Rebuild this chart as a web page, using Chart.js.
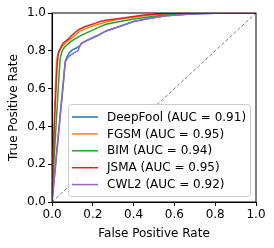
<!DOCTYPE html>
<html>
<head>
<meta charset="utf-8">
<script src="https://cdn.jsdelivr.net/npm/chart.js@4/dist/chart.umd.min.js"></script>
<style>
    html, body { margin: 0; padding: 0; background: #fff; }
    #wrap { width: 274px; height: 248px; }
</style>
</head>
<body>
<div id="wrap"><canvas id="roc"></canvas></div>
<script>
// ---------- Data ----------

const seriesNames = ['DeepFool', 'FGSM', 'BIM', 'JSMA', 'CWL2'];
const aucValues = [0.91, 0.95, 0.94, 0.95, 0.92];
const seriesColors = ['#1f77b4', '#ff7f0e', '#2ca02c', '#d62728', '#9467bd'];

const deepfoolFpr = [0, 0.02, 0.04, 0.055, 0.065, 0.075, 0.085, 0.1, 0.12, 0.135, 0.144, 0.176, 0.225, 0.265, 0.32, 0.4, 0.48, 0.56, 0.68, 0.84, 1];
const deepfoolTpr = [0, 0.23, 0.46, 0.63, 0.745, 0.77, 0.79, 0.805, 0.815, 0.825, 0.84, 0.857, 0.882, 0.905, 0.925, 0.955, 0.972, 0.985, 0.995, 1, 1];

const fgsmFpr = [0, 0.005, 0.015, 0.022, 0.03, 0.04, 0.06, 0.08, 0.1, 0.13, 0.17, 0.21, 0.265, 0.32, 0.4, 0.48, 0.58, 0.7, 1];
const fgsmTpr = [0, 0.25, 0.55, 0.74, 0.79, 0.81, 0.835, 0.855, 0.87, 0.9, 0.92, 0.935, 0.952, 0.965, 0.978, 0.99, 0.997, 1, 1];

const bimFpr = [0, 0.01, 0.025, 0.035, 0.04, 0.05, 0.062, 0.093, 0.14, 0.21, 0.235, 0.265, 0.32, 0.4, 0.48, 0.56, 0.65, 0.73, 1];
const bimTpr = [0, 0.22, 0.5, 0.68, 0.76, 0.8, 0.82, 0.85, 0.88, 0.915, 0.928, 0.94, 0.952, 0.968, 0.98, 0.99, 0.996, 1, 1];

const jsmaFpr = [0, 0.005, 0.015, 0.025, 0.03, 0.04, 0.054, 0.078, 0.095, 0.127, 0.16, 0.21, 0.235, 0.265, 0.32, 0.4, 0.45, 0.56, 0.64, 0.8, 1];
const jsmaTpr = [0, 0.2, 0.5, 0.72, 0.78, 0.81, 0.84, 0.86, 0.88, 0.91, 0.927, 0.945, 0.955, 0.962, 0.97, 0.982, 0.99, 0.998, 1, 1, 1];

const cwl2Fpr = [0, 0.02, 0.04, 0.055, 0.065, 0.075, 0.087, 0.11, 0.127, 0.135, 0.144, 0.176, 0.225, 0.265, 0.32, 0.4, 0.48, 0.56, 0.68, 0.84, 1];
const cwl2Tpr = [0, 0.22, 0.45, 0.62, 0.74, 0.76, 0.775, 0.79, 0.8, 0.82, 0.84, 0.857, 0.88, 0.905, 0.925, 0.955, 0.972, 0.985, 0.995, 1, 1];

const chanceX = [0, 1];
const chanceY = [0, 1];

const tickValues = [0, 0.2, 0.4, 0.6, 0.8, 1.0];

// ---------- Helpers ----------

function toPoints(xs, ys) {
    return xs.map((x, i) => ({ x, y: ys[i] }));
}

const curveData = [
    toPoints(deepfoolFpr, deepfoolTpr),
    toPoints(fgsmFpr, fgsmTpr),
    toPoints(bimFpr, bimTpr),
    toPoints(jsmaFpr, jsmaTpr),
    toPoints(cwl2Fpr, cwl2Tpr)
];

const FONT = { family: 'DejaVu Sans', size: 12 };

const datasets = seriesNames.map((name, i) => ({
    label: `${name} (AUC = ${aucValues[i].toFixed(2)})`,
    data: curveData[i],
    borderColor: seriesColors[i],
    borderWidth: 1.5,
    pointRadius: 0,
    tension: 0,
    order: seriesNames.length - i
}));

datasets.push({
    label: 'chance',
    data: toPoints(chanceX, chanceY),
    borderColor: '#808080',
    borderWidth: 1,
    borderDash: [3.5, 2],
    pointRadius: 0,
    order: 10
});

// ---------- Plugins ----------

const frame = {
    id: 'frame',
    afterDatasetsDraw(chart) {
        const { ctx, chartArea: a } = chart;
        ctx.save();
        ctx.strokeStyle = '#000';
        ctx.lineWidth = 1;
        ctx.strokeRect(a.left, a.top, a.right - a.left, a.bottom - a.top);
        ctx.restore();
    }
};

const boxLegend = {
    id: 'boxLegend',
    afterDraw(chart) {
        const ctx = chart.ctx;
        const left = 68, top = 104, w = 182, h = 92, r = 3;
        ctx.save();
        ctx.beginPath();
        ctx.roundRect(left + 0.5, top + 0.5, w, h, r);
        ctx.fillStyle = 'rgba(255,255,255,0.8)';
        ctx.fill();
        ctx.strokeStyle = '#cccccc';
        ctx.lineWidth = 1;
        ctx.stroke();

        ctx.font = '12px "DejaVu Sans"';
        ctx.textBaseline = 'middle';
        ctx.fillStyle = '#000';
        seriesNames.forEach((name, i) => {
            const y = 117 + i * 16.9;
            ctx.beginPath();
            ctx.moveTo(72, y);
            ctx.lineTo(98, y);
            ctx.strokeStyle = seriesColors[i];
            ctx.lineWidth = 1.5;
            ctx.stroke();
            ctx.fillText(datasets[i].label, 107, y + 0.5);
        });
        ctx.restore();
    }
};

// ---------- Chart ----------

function axisOptions(title, isY) {
    return {
        type: 'linear',
        min: 0,
        max: 1,
        afterBuildTicks: scale => {
            scale.ticks = tickValues.map(v => ({ value: v }));
        },
        afterFit: scale => {
            if (isY) scale.width = 52;
            else scale.height = 46;
        },
        ticks: {
            font: FONT,
            color: '#000',
            padding: 2,
            maxRotation: 0,
            callback: v => v.toFixed(1)
        },
        grid: {
            drawOnChartArea: false,
            drawTicks: true,
            tickLength: 4,
            color: '#000'
        },
        border: { display: true, color: '#000' },
        title: {
            display: true,
            text: title,
            font: FONT,
            color: '#000',
            padding: isY ? { top: 7, bottom: 7 } : { top: 7, bottom: 7 }
        }
    };
}

new Chart(document.getElementById('roc'), {
    type: 'line',
    data: { datasets },
    options: {
        responsive: true,
        maintainAspectRatio: false,
        animation: false,
        layout: { padding: { left: 0, top: 13, right: 18, bottom: 0 } },
        plugins: {
            legend: { display: false },
            tooltip: { enabled: false }
        },
        scales: {
            x: axisOptions('False Positive Rate', false),
            y: axisOptions('True Positive Rate', true)
        }
    },
    plugins: [frame, boxLegend]
});
</script>
</body>
</html>
